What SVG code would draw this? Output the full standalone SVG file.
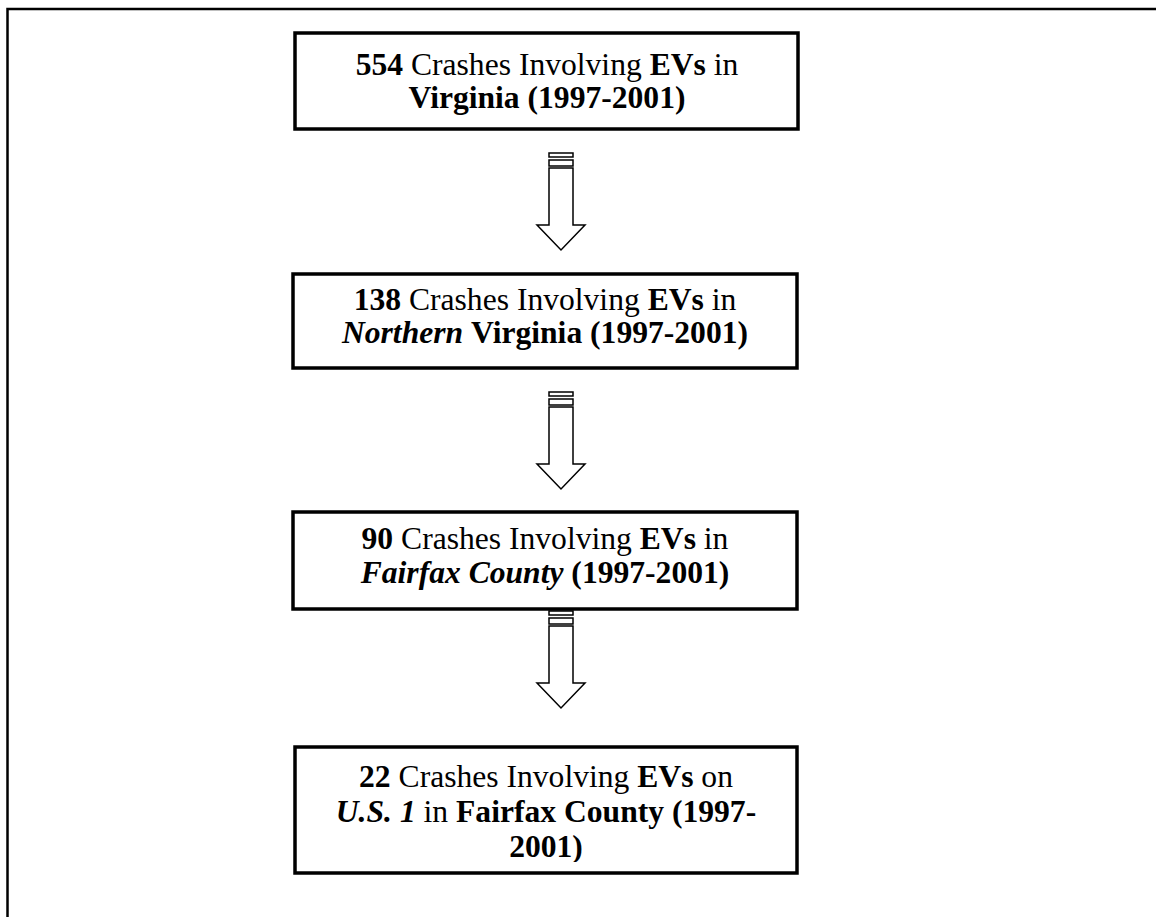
<svg xmlns="http://www.w3.org/2000/svg" xmlns:xlink="http://www.w3.org/1999/xlink" width="1156" height="917" viewBox="0 0 1156 917">
<style>
.box{fill:#fff;stroke:#000;stroke-width:3.5}
.t{font-family:"Liberation Serif","Times New Roman",serif;font-size:31.6px;fill:#000;text-anchor:middle}
.b{font-weight:bold}
.i{font-style:italic}
.arr{fill:#fff;stroke:#000;stroke-width:1.5;stroke-linejoin:miter}
.frame{stroke:#000;stroke-width:2.5;fill:none}
</style>
<defs>
<g id="striped">
<rect class="arr" x="549" y="0" width="24" height="4"/>
<rect class="arr" x="549" y="7" width="24" height="6"/>
<polygon class="arr" points="549,15 573,15 573,72 585,72 561,97 537,72 549,72"/>
</g>
<clipPath id="clip4"><rect x="297" y="749" width="498" height="113"/></clipPath>
</defs>
<rect width="1156" height="917" fill="#fff"/>
<path class="frame" d="M7.5,917 V9 H1156"/>
<g id="connectors">
<use xlink:href="#striped" transform="translate(0,153)"/>
<use xlink:href="#striped" transform="translate(0,392)"/>
<use xlink:href="#striped" transform="translate(0,611)"/>
</g>
<g id="node1">
<rect class="box" x="295" y="33" width="503" height="96"/>
<text class="t" x="547" y="75"><tspan class="b">554</tspan> Crashes Involving <tspan class="b">EVs</tspan> in</text>
<text class="t b" x="547" y="108">Virginia (1997-2001)</text>
</g>
<g id="node2">
<rect class="box" x="293" y="274" width="504" height="94"/>
<text class="t" x="545" y="310"><tspan class="b">138</tspan> Crashes Involving <tspan class="b">EVs</tspan> in</text>
<text class="t" x="545" y="343"><tspan class="b i">Northern</tspan> <tspan class="b">Virginia (1997-2001)</tspan></text>
</g>
<g id="node3">
<rect class="box" x="293" y="512" width="504" height="97"/>
<text class="t" x="545" y="549"><tspan class="b">90</tspan> Crashes Involving <tspan class="b">EVs</tspan> in</text>
<text class="t b" x="545" y="583"><tspan class="i">Fairfax County</tspan> (1997-2001)</text>
</g>
<g id="node4">
<rect class="box" x="295" y="747" width="502" height="126"/>
<g clip-path="url(#clip4)">
<text class="t" x="546" y="787"><tspan class="b">22</tspan> Crashes Involving <tspan class="b">EVs</tspan> on</text>
<text class="t" x="546" y="822"><tspan class="b i">U.S. 1</tspan> in <tspan class="b">Fairfax County (1997-</tspan></text>
<text class="t b" x="546" y="857">2001)</text>
</g>
</g>
</svg>
